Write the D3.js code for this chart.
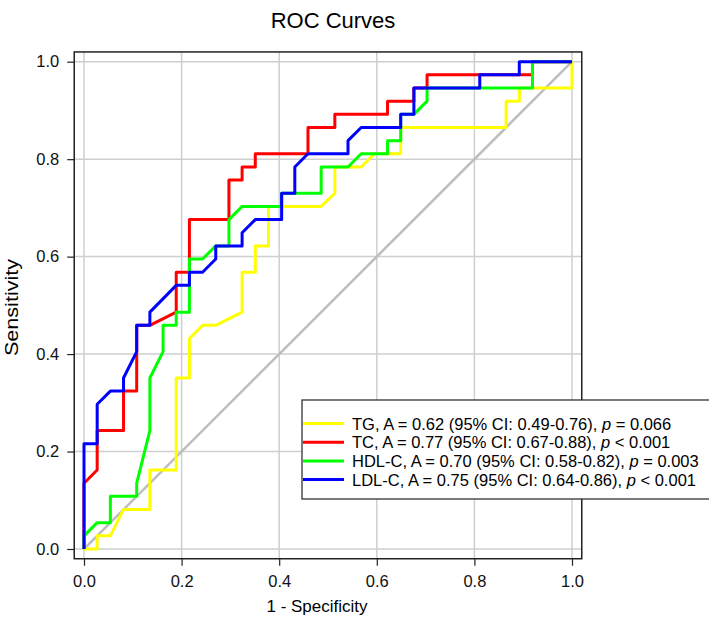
<!DOCTYPE html>
<html>
<head>
<meta charset="utf-8">
<script src="https://cdn.jsdelivr.net/npm/d3@7"></script>
<style>
  body { margin: 0; background: #fff; }
  svg { font-family: Arial, 'Liberation Sans', sans-serif; }
</style>
</head>
<body>
<svg width="709" height="634"></svg>
<script>
// ROC points (1 - specificity, sensitivity)
const tgFpr = [0, .027, .027, .054, .081, .135, .135, .189, .189, .216, .216, .243, .270, .324, .324, .351, .351, .378, .378, .486, .514, .514, .568, .595, .649, .649, .865, .865, .892, .892, 1, 1];
const tgTpr = [0, 0, .027, .027, .081, .081, .162, .162, .351, .351, .432, .459, .459, .486, .568, .568, .622, .622, .703, .703, .730, .784, .784, .811, .811, .865, .865, .919, .919, .946, .946, 1];

const tcFpr = [0, 0, .027, .027, .081, .081, .108, .108, .135, .189, .189, .216, .216, .297, .297, .324, .324, .351, .351, .459, .459, .514, .514, .622, .622, .676, .676, .703, .703, .919, .919, 1];
const tcTpr = [0, .135, .162, .243, .243, .324, .324, .459, .459, .486, .568, .568, .676, .676, .757, .757, .784, .784, .811, .811, .865, .865, .892, .892, .919, .919, .946, .946, .973, .973, 1, 1];

const hdlFpr = [0, 0, .027, .054, .054, .108, .108, .135, .135, .162, .162, .189, .189, .216, .216, .243, .270, .297, .297, .324, .405, .405, .486, .486, .541, .568, .622, .622, .649, .649, .676, .703, .703, .919, .919, 1];
const hdlTpr = [0, .027, .054, .054, .108, .108, .135, .243, .351, .405, .459, .459, .486, .486, .595, .595, .622, .622, .676, .703, .703, .730, .730, .784, .784, .811, .811, .838, .838, .892, .892, .919, .946, .946, 1, 1];

const ldlFpr = [0, 0, .027, .027, .054, .081, .081, .108, .108, .135, .135, .189, .216, .216, .243, .270, .270, .324, .324, .351, .405, .405, .432, .432, .459, .541, .541, .568, .649, .649, .676, .676, .811, .811, .892, .892, 1];
const ldlTpr = [0, .216, .216, .297, .324, .324, .351, .405, .459, .459, .486, .541, .541, .568, .568, .595, .622, .622, .649, .676, .676, .730, .730, .784, .811, .811, .838, .865, .865, .892, .892, .946, .946, .973, .973, 1, 1];

const names = ['TG', 'TC', 'HDL-C', 'LDL-C'];
const auc = ['0.62', '0.77', '0.70', '0.75'];
const ci = ['0.49-0.76', '0.67-0.88', '0.58-0.82', '0.64-0.86'];
const pText = ['= 0.066', '< 0.001', '= 0.003', '< 0.001'];
const colors = ['#ffff00', '#ff0000', '#00ff00', '#0000ff'];
const ticks = [0, 0.2, 0.4, 0.6, 0.8, 1.0];

const curves = [
  [tgFpr, tgTpr],
  [tcFpr, tcTpr],
  [hdlFpr, hdlTpr],
  [ldlFpr, ldlTpr]
].map(([fx, ty]) => fx.map((v, i) => [v, ty[i]]));

const svg = d3.select('svg');

const x = d3.scaleLinear().domain([0, 1]).range([84, 572]);
const y = d3.scaleLinear().domain([0, 1]).range([549, 61.7]);

// grid
const grid = svg.append('g').attr('stroke', '#cfcfcf').attr('stroke-width', 1.5);
grid.selectAll('.gx')
  .data(ticks)
  .enter()
  .append('line')
  .attr('x1', d => x(d)).attr('x2', d => x(d))
  .attr('y1', y(-0.02)).attr('y2', y(1.02));
grid.selectAll('.gy')
  .data(ticks)
  .enter()
  .append('line')
  .attr('y1', d => y(d)).attr('y2', d => y(d))
  .attr('x1', x(-0.02)).attr('x2', x(1.02));

// identity line
svg.append('line')
  .attr('x1', x(0)).attr('y1', y(0))
  .attr('x2', x(1)).attr('y2', y(1))
  .attr('stroke', '#bebebe')
  .attr('stroke-width', 2.5);

const line = d3.line().x(d => x(d[0])).y(d => y(d[1]));

svg.append('g')
  .selectAll('path')
  .data(curves)
  .enter()
  .append('path')
  .attr('d', line)
  .attr('fill', 'none')
  .attr('stroke', (d, i) => colors[i])
  .attr('stroke-width', 3)
  .attr('stroke-linejoin', 'round');

// frame
svg.append('rect')
  .attr('x', x(-0.02))
  .attr('y', y(1.02))
  .attr('width', x(1.02) - x(-0.02))
  .attr('height', y(-0.02) - y(1.02))
  .attr('fill', 'none')
  .attr('stroke', '#222')
  .attr('stroke-width', 1.5);

const xAxis = svg.append('g')
  .attr('transform', `translate(0,${y(-0.02)})`)
  .call(d3.axisBottom(x).tickValues(ticks).tickSize(7).tickPadding(10).tickFormat(d3.format('.1f')));
const yAxis = svg.append('g')
  .attr('transform', `translate(${x(-0.02)},0)`)
  .call(d3.axisLeft(y).tickValues(ticks).tickSize(7).tickPadding(8).tickFormat(d3.format('.1f')));

[xAxis, yAxis].forEach(a => {
  a.select('.domain').remove();
  a.selectAll('line').attr('stroke', '#222').attr('stroke-width', 1.2);
  a.selectAll('text').attr('font-size', 16.5).attr('fill', '#111').attr('font-family', 'Arial, Liberation Sans, sans-serif');
});

// titles
svg.append('text')
  .attr('x', 333).attr('y', 28)
  .attr('text-anchor', 'middle')
  .attr('font-size', 22)
  .text('ROC Curves');

svg.append('text')
  .attr('x', 317).attr('y', 612)
  .attr('text-anchor', 'middle')
  .attr('font-size', 17)
  .text('1 - Specificity');

svg.append('text')
  .attr('transform', 'translate(18,307.5) rotate(-90)')
  .attr('text-anchor', 'middle')
  .attr('font-size', 18)
  .attr('textLength', 97)
  .attr('lengthAdjust', 'spacingAndGlyphs')
  .text('Sensitivity');

// legend
const legend = svg.append('g');
legend.append('rect')
  .attr('x', 302).attr('y', 400)
  .attr('width', 412).attr('height', 99)
  .attr('fill', '#fff')
  .attr('stroke', '#222')
  .attr('stroke-width', 1.2);

const rows = legend.selectAll('.row')
  .data(names)
  .enter()
  .append('g')
  .attr('transform', (d, i) => `translate(0,${423.5 + i * 18.7})`);

rows.append('line')
  .attr('x1', 303).attr('x2', 344)
  .attr('stroke', (d, i) => colors[i])
  .attr('stroke-width', 3);

const label = rows.append('text')
  .attr('x', 352)
  .attr('y', 6)
  .attr('font-size', 16.5);
label.append('tspan').text((d, i) => `${d}, A = ${auc[i]} (95% CI: ${ci[i]}), `);
label.append('tspan').attr('font-style', 'italic').text('p');
label.append('tspan').text((d, i) => ` ${pText[i]}`);
</script>
</body>
</html>
